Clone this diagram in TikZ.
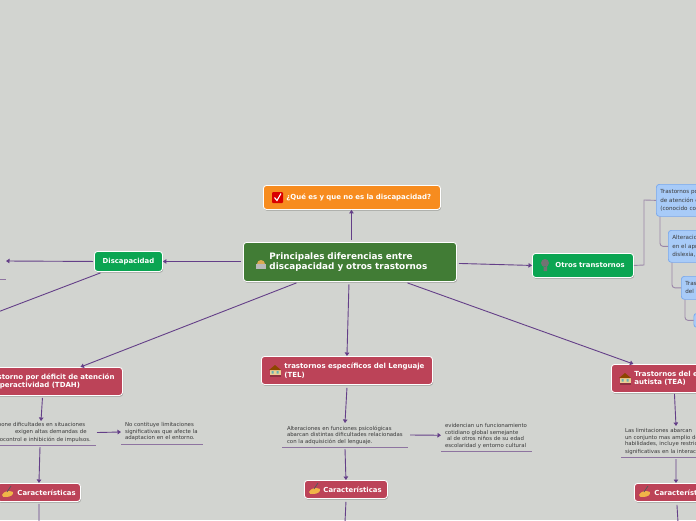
\documentclass[tikz,border=0pt]{standalone}
\usepackage{fontspec}
\setmainfont{DejaVu Sans}
\usetikzlibrary{shadows,calc,arrows.meta}
\definecolor{bgc}{HTML}{D2D4D0}
\definecolor{mainc}{HTML}{417C35}
\definecolor{orangec}{HTML}{F78C1F}
\definecolor{greenc}{HTML}{0BA552}
\definecolor{redc}{HTML}{BC4358}
\definecolor{bluec}{HTML}{A8CBF8}
\definecolor{blueb}{HTML}{78A8EE}
\definecolor{linec}{HTML}{643F88}
\definecolor{elbowc}{HTML}{9A86A8}
\definecolor{underc}{HTML}{8E74A0}
\definecolor{txt}{HTML}{3A3A3A}
\definecolor{handc}{HTML}{F0B548}
\definecolor{creamc}{HTML}{EBCF94}
\newcommand{\fsz}[1]{\fontsize{#1}{#1}\selectfont}
\newcommand{\ind}[1]{\hspace*{#1pt}}
\newcommand{\handicon}[2]{%
  \fill[handc] (#1-6,#2+3) .. controls (#1-4,#2-1) and (#1+1,#2-2) .. (#1+5,#2) .. controls (#1+6,#2+3) and (#1+2,#2+5) .. (#1-2,#2+5) .. controls (#1-5,#2+5) .. (#1-6,#2+3);
  \draw[line width=.8,black!65] (#1-1,#2) -- (#1+3,#2-6);}
\newcommand{\bldgicon}[2]{%
  \fill[creamc] (#1-5.5,#2-1) rectangle (#1+5.5,#2+6);
  \fill[redc!75!black] (#1-5.5,#2+3.5) rectangle (#1+5.5,#2+6);
  \fill[black!45!orange] (#1-6,#2-1) -- (#1,#2-6) -- (#1+6,#2-1) -- cycle;
  \fill[teal!60] (#1-3.5,#2) rectangle (#1-1.5,#2+2.5) (#1+1.5,#2) rectangle (#1+3.5,#2+2.5);}
\tikzset{
  x=1pt,y=-1pt,
  boxb/.style={anchor=north west,rounded corners=3,draw=white,line width=.9,
    text=white,font=\bfseries,align=left,inner ysep=0,inner xsep=5,
    drop shadow={shadow xshift=.6pt,shadow yshift=-1.2pt,fill=black,opacity=.25}},
  bluebox/.style={anchor=north west,rounded corners=3,draw=blueb,line width=.7,fill=bluec,
    text=txt,font=\fsz{5.6},align=left,inner ysep=0,inner xsep=4},
  plain/.style={anchor=north west,text=txt,font=\fsz{5.4},align=left,inner sep=0,outer sep=0},
  conn/.style={draw=linec,line width=.9,-{Triangle[length=3.5,width=4.5]}},
  tail/.style={draw=linec,line width=.9},
  under/.style={draw=underc,line width=.7},
  elbow/.style={draw=elbowc,line width=.9,rounded corners=3},
}
\begin{document}
\begin{tikzpicture}
\useasboundingbox (0,0) rectangle (696,520);
\clip (0,0) rectangle (696,520);
\fill[bgc] (0,0) rectangle (696,520);

% Nodes
\node[boxb,fill=mainc,at={(243,242)},minimum height=39,text width=203,font=\fsz{8.85}\bfseries] (main) {\ind{21}Principales diferencias entre\\[1.5pt]\ind{21}discapacidad y otros trastornos};
\node[boxb,fill=orangec,at={(263,185)},minimum height=24,text width=167,font=\fsz{6.95}\bfseries] (que) {\ind{18}¿Qué es y que no es la discapacidad?};
\node[boxb,fill=greenc,at={(94,251)},minimum height=20,text width=58,align=center,font=\fsz{6.9}\bfseries] (disc) {Discapacidad};
\node[boxb,fill=greenc,at={(532,253)},minimum height=24,text width=91,font=\fsz{6.9}\bfseries] (otros) {\ind{18}Otros transtornos};

\node[boxb,fill=redc,at={(-38,367)},minimum height=28,text width=150,font=\fsz{7}\bfseries] (tdah) {\ind{18}Trastorno por déficit de atención\\[1.5pt]\ind{18}e hiperactividad (TDAH)};
\node[boxb,fill=redc,at={(261,356)},minimum height=28,text width=161,font=\fsz{7}\bfseries] (tel) {\ind{18}trastornos específicos del Lenguaje\\[1.5pt]\ind{18}(TEL)};
\node[boxb,fill=redc,at={(611,364)},minimum height=28,text width=160,font=\fsz{7}\bfseries] (tea) {\ind{18}Trastornos del espectro\\[1.5pt]\ind{18}autista (TEA)};

\node[boxb,fill=redc,at={(-3,483)},minimum height=18,text width=73,font=\fsz{6.9}\bfseries] (cara) {\ind{15}\mbox{Características}};
\node[boxb,fill=redc,at={(304,480)},minimum height=18,text width=73,font=\fsz{6.9}\bfseries] (carb) {\ind{14}\mbox{Características}};
\node[boxb,fill=redc,at={(634,483)},minimum height=18,text width=73,font=\fsz{6.9}\bfseries] (carc) {\ind{15}\mbox{Características}};

\node[bluebox,at={(656,184)},minimum height=32,text width=140] (na) {Trastornos por\\[2.7pt]de atención e\\[2.7pt](conocido como};
\node[bluebox,at={(668,230)},minimum height=32,text width=140] (nb) {Alteraciones\\[2.7pt]en el aprendizaje\\[2.7pt]dislexia,};
\node[bluebox,at={(681,276)},minimum height=23,text width=140] (nc) {Trastornos\\[2.7pt]del lenguaje};
\node[bluebox,at={(693.5,313)},minimum height=14,text width=140] (nd) {};

\node[plain,text width=130,minimum height=25,at={(-34,420)}] (ta) {\ind{25}Supone dificultades en situaciones\\[1.1pt]\ind{49}exigen altas demandas de\\[1.1pt]\ind{25}autocontrol e inhibición de impulsos.};
\node[plain,text width=82,minimum height=24,at={(121,420)}] (tb) {\ind{4}No contituye limitaciones\\[1.1pt]\ind{4}significativas que afecte la\\[1.1pt]\ind{4}adaptacion en el entorno.};
\node[plain,text width=126,minimum height=24,at={(282,423)}] (tc) {\ind{5}Alteraciones en funciones psicológicas\\[1.1pt]\ind{5}abarcan distintas dificultades relacionadas\\[1.1pt]\ind{5}con la adquisición del lenguaje.};
\node[plain,text width=91,minimum height=29.5,at={(441,421.5)}] (td) {\ind{4}evidencian un funcionamiento\\[1.1pt]\ind{4}cotidiano global semejante\\[1.1pt]\ind{6}al de otros niños de su edad\\[1.1pt]\ind{4}escolaridad y entorno cultural};
\node[plain,text width=130,minimum height=31,at={(621,426)}] (te) {\ind{4}Las limitaciones abarcan\\[1.1pt]\ind{4}un conjunto mas amplio de\\[1.1pt]\ind{4}habilidades, incluye restricciones\\[1.1pt]\ind{4}significativas en la interacción};

\coordinate (dleft) at (6,261);
\coordinate (dout) at (-10,315);
\coordinate (ulfree) at (-10,279);
\coordinate (ulend) at (6,279);
\coordinate (bota) at (39,522);
\coordinate (botb) at (345,522);
\coordinate (botc) at (678,522);

% Connectors (yshift is in canvas direction: positive is up)
\draw[conn] ([xshift=1.5,yshift=2]main.north) -- ([xshift=-.5]que.south);
\draw[conn] ([xshift=-2,yshift=.5]main.west) -- (disc.east);
\draw[conn] ([xshift=2,yshift=-1.5]main.east) -- (otros.west);
\draw[conn] ([xshift=-1,yshift=-2.5]main.south) -- (tel.north);
\draw[conn] ([xshift=-53.5,yshift=-1]main.south) -- ([xshift=38]tdah.north);
\draw[conn] ([xshift=57.5,yshift=-1]main.south) -- ([xshift=-63]tea.north);
\draw[conn] ([xshift=-1]disc.west) -- (dleft);
\draw[tail] ([xshift=-28,yshift=-1]disc.south) -- (dout);
\draw[under] (ulfree) -- (ulend);

\draw[conn] ([yshift=-2]tdah.south) -- ([xshift=10,yshift=-1]ta.north);
\draw[conn] ([xshift=1]ta.east) -- (tb.west);
\draw[conn] ([xshift=9,yshift=-2]ta.south) -- (cara.north);
\draw[tail] ([yshift=-2]cara.south) -- (bota);

\draw[conn] ([yshift=-3]tel.south) -- (tc.north);
\draw[conn] ([xshift=2]tc.east) -- ([yshift=1]td.west);
\draw[conn] ([yshift=-2]tc.south) -- (carb.north);
\draw[tail] ([yshift=-3]carb.south) -- (botb);

\draw[conn] ([xshift=-22,yshift=-1]tea.south) -- ([xshift=-10]te.north);
\draw[conn] ([xshift=-10,yshift=-2]te.south) -- (carc.north);
\draw[tail] ([xshift=1,yshift=-3]carc.south) -- (botc);

% Underlines
\draw[under] (ta.south west) -- (ta.south east);
\draw[under] (tb.south west) -- (tb.south east);
\draw[under] (tc.south west) -- (tc.south east);
\draw[under] (td.south west) -- (td.south east);
\draw[under] (te.south west) -- (te.south east);

% Elbows
\draw[elbow,rounded corners=0] (otros.east) -- (644,265) -- (644,200) -- (na.west);
\draw[elbow] ([xshift=4]na.south west) |- (nb.west);
\draw[elbow] ([xshift=4]nb.south west) |- (nc.west);
\draw[elbow] ([xshift=4]nc.south west) |- (nd.west);

% Icons
\fill[red!85!black,rounded corners=1] (272,192) rectangle (283,203);
\draw[white,line width=1.1] (274.5,197.5) -- (277,200.5) -- (281,193.5);
\fill[handc!80!gray] (257,264) arc[start angle=180,end angle=360,radius=4] -- cycle;
\fill[gray!55] (255.5,264) rectangle (266,268.5);
\fill[black!55] (545,263) circle[radius=4] (543.5,266) rectangle (547,271);
\handicon{8}{492}
\handicon{315}{489}
\handicon{645}{492}
\bldgicon{-8}{381}
\bldgicon{275}{371}
\bldgicon{625}{379}
\end{tikzpicture}
\end{document}
